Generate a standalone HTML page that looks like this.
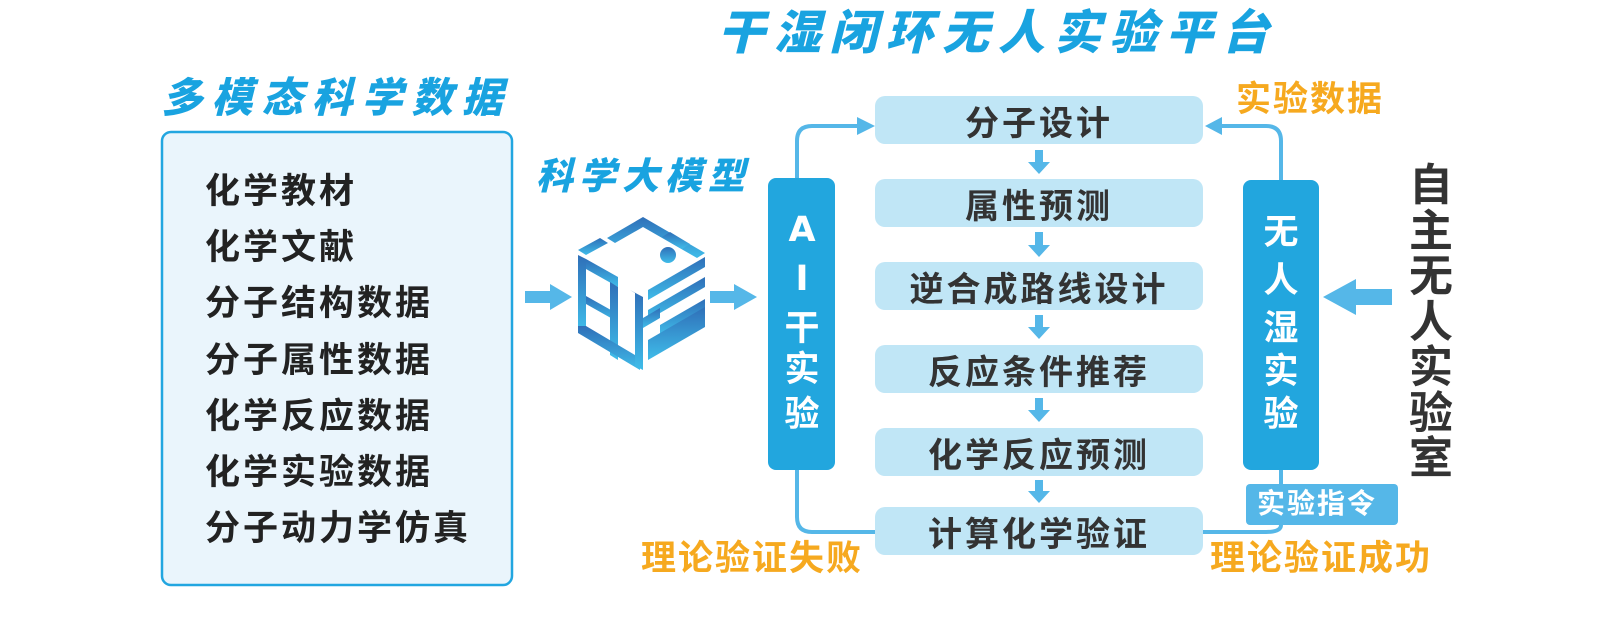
<!DOCTYPE html>
<html><head><meta charset="utf-8"><style>
body{margin:0;width:1622px;height:642px;background:#fff;position:relative;overflow:hidden;font-family:"Liberation Sans","Noto Sans CJK SC",sans-serif;}
.t{position:absolute;white-space:nowrap;font-weight:bold;line-height:1;}
.ttl{color:#19a3e0;transform:skewX(-14deg);font-weight:900;}
.it{font-size:35px;letter-spacing:3px;color:#222;}
.cb{position:absolute;left:875px;width:328px;height:48px;background:#c0e6f6;border-radius:10px;display:flex;align-items:center;justify-content:center;font-size:34px;font-weight:bold;color:#333;letter-spacing:3px;}
.org{color:#f6a91f;font-size:35px;letter-spacing:2px;}
.vc{position:absolute;color:#fff;font-size:35px;font-weight:bold;line-height:1;text-align:center;width:60px;}
</style></head><body>
<svg width="1622" height="642" style="position:absolute;left:0;top:0">
<defs><linearGradient id="g" x1="0" y1="0" x2="0" y2="1"><stop offset="0" stop-color="#2f6fb8"/><stop offset="1" stop-color="#3fbce9"/></linearGradient></defs>
<rect x="162" y="132" width="350" height="453" rx="9" fill="#eaf5fc" stroke="#22a6e0" stroke-width="2.5"/>
<polygon points="525,291 550,291 550,284 572,297 550,310 550,303 525,303" fill="#55b7e8"/>
<polygon points="710,291 734,291 734,284 757,297 734,310 734,303 710,303" fill="#55b7e8"/>
<g fill="url(#g)">
<polygon points="643,217 705,253 697,258 643,227 615,243 607,238"/>
<polygon points="578,250 600,238 608,243 586,255"/>
<polygon points="670,232 690,244 682,249 662,237"/>
<circle cx="668" cy="255" r="8"/>
<polygon points="578,255 586,259 586,330 578,326"/>
<polygon points="586,259 618,277 618,287 586,269"/>
<polygon points="586,296 618,314 618,322 586,304"/>
<polygon points="610,282 618,287 618,360 610,355"/>
<polygon points="586,326 640,358 640,370 578,333 578,326"/>
<polygon points="630,290 643,297 643,370 635,366 635,293"/>
<polygon points="648,290 705,257 705,267 648,300"/>
<polygon points="648,310 705,277 705,287 648,320"/>
<polygon points="660,325 705,299 705,309 660,335"/>
<polygon points="648,340 705,307 705,327 648,360"/>
<polygon points="643,318 660,308 660,318 643,328"/>
</g>
<path d="M797 178 V141 Q797 126 812 126 H860" fill="none" stroke="#55b7e8" stroke-width="4"/>
<polygon points="857,117 875,126 857,135" fill="#55b7e8"/>
<path d="M797 470 V517 Q797 532 812 532 H875" fill="none" stroke="#55b7e8" stroke-width="4"/>
<rect x="768" y="178" width="67" height="292" rx="8" fill="#22a6de"/>
<path d="M1281 180 V141 Q1281 126 1266 126 H1220" fill="none" stroke="#55b7e8" stroke-width="4"/>
<polygon points="1222,117 1205,126 1222,135" fill="#55b7e8"/>
<path d="M1281 470 V484" stroke="#55b7e8" stroke-width="4"/>
<path d="M1281 525 Q1281 532 1266 532 H1203" fill="none" stroke="#55b7e8" stroke-width="4"/>
<rect x="1243" y="180" width="76" height="290" rx="8" fill="#22a6de"/>
<rect x="1246" y="484" width="152" height="41" rx="4" fill="#55b7e8"/>
<polygon points="1323,297 1356,279 1356,289 1392,289 1392,305 1356,305 1356,315" fill="#55b7e8"/>
<g fill="#55b7e8">
<polygon points="1035,150 1043,150 1043,162 1050,162 1039,174 1028,162 1035,162"/>
<polygon points="1035,232 1043,232 1043,245 1050,245 1039,257 1028,245 1035,245"/>
<polygon points="1035,315 1043,315 1043,327 1050,327 1039,339 1028,327 1035,327"/>
<polygon points="1035,398 1043,398 1043,410 1050,410 1039,422 1028,410 1035,410"/>
<polygon points="1035,480 1043,480 1043,491 1050,491 1039,503 1028,491 1035,491"/>
</g>
</svg>
<div class="t ttl" style="left:722px;top:9px;font-size:47px;letter-spacing:9px;">干湿闭环无人实验平台</div>
<div class="t ttl" style="left:165px;top:78px;font-size:41px;letter-spacing:9px;">多模态科学数据</div>
<div class="t ttl" style="left:539px;top:158px;font-size:37px;letter-spacing:6px;">科学大模型</div>
<div class="t it" style="left:205px;top:174px;">化学教材</div>
<div class="t it" style="left:205px;top:230px;">化学文献</div>
<div class="t it" style="left:205px;top:286px;">分子结构数据</div>
<div class="t it" style="left:205px;top:343px;">分子属性数据</div>
<div class="t it" style="left:205px;top:399px;">化学反应数据</div>
<div class="t it" style="left:205px;top:455px;">化学实验数据</div>
<div class="t it" style="left:205px;top:511px;">分子动力学仿真</div>
<div class="cb" style="top:96px;">分子设计</div>
<div class="cb" style="top:179px;">属性预测</div>
<div class="cb" style="top:262px;">逆合成路线设计</div>
<div class="cb" style="top:345px;">反应条件推荐</div>
<div class="cb" style="top:428px;">化学反应预测</div>
<div class="cb" style="top:507px;">计算化学验证</div>
<div class="vc" style="left:772px;top:213px;font-family:'DejaVu Sans',sans-serif;">A</div>
<div class="vc" style="left:772px;top:262px;font-family:'DejaVu Sans',sans-serif;">I</div>
<div class="vc" style="left:772px;top:311px;">干</div>
<div class="vc" style="left:772px;top:352px;">实</div>
<div class="vc" style="left:772px;top:397px;">验</div>
<div class="vc" style="left:1251px;top:215px;">无</div>
<div class="vc" style="left:1251px;top:263px;">人</div>
<div class="vc" style="left:1251px;top:311px;">湿</div>
<div class="vc" style="left:1251px;top:354px;">实</div>
<div class="vc" style="left:1251px;top:397px;">验</div>
<div class="t" style="left:1257px;top:490px;font-size:28px;color:#fff;letter-spacing:2px;">实验指令</div>
<div class="t" style="left:1409px;top:163px;font-size:44px;line-height:45.5px;color:#333;width:48px;white-space:normal;">自主无人实验室</div>
<div class="t org" style="left:1236px;top:82px;">实验数据</div>
<div class="t org" style="left:641px;top:541px;">理论验证失败</div>
<div class="t org" style="left:1210px;top:541px;">理论验证成功</div>
</body></html>
